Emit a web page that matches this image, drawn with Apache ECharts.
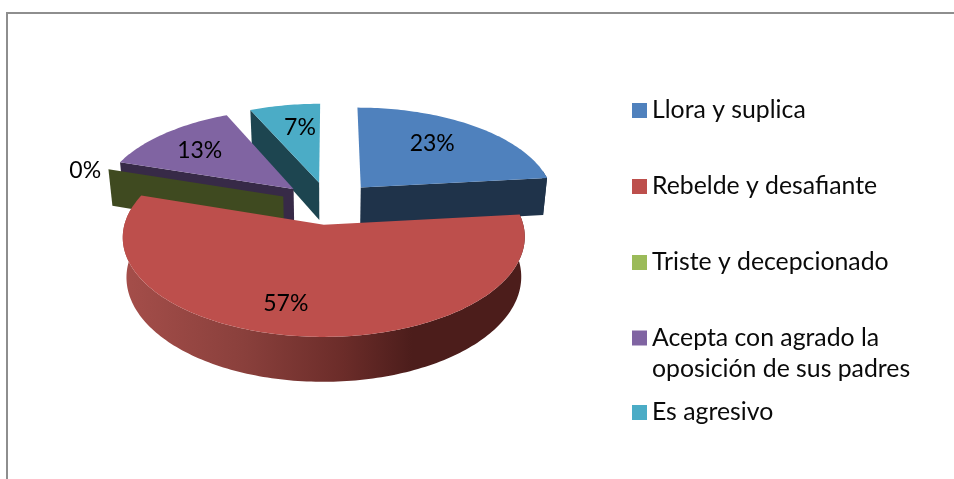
<!DOCTYPE html>
<html>
<head>
<meta charset="utf-8">
<style>html,body{margin:0;padding:0;background:#fff}#chart{width:954px;height:479px}</style>
<script src="https://cdn.jsdelivr.net/npm/echarts@6/dist/echarts.min.js"></script>
</head>
<body>
<div id="chart"></div>
<script>
// datos (porcentajes estimados, la etiqueta los redondea)
const categorias = ["Llora y suplica", "Rebelde y desafiante", "Triste y decepcionado", "Acepta con agrado la oposición de sus padres", "Es agresivo"];
const valores = [23.3, 56.7, 0, 13.3, 6.7];
const coloresCara = ["#4f81bd", "#bd4f4c", "#9bbb59", "#8064a2", "#4bacc6"];
const coloresLado = ["#1f334a", "#4c1d1b", "#3f4a20", "#372a47", "#1d4550"];
const ordenDibujo = [4, 3, 2, 0, 1]; // del fondo hacia el frente
const ajusteEtiqueta = [[-5, -3], [-23, 10], [-83, -8], [-8, -1], [4, -3]];

// camara de la torta 3D
const cx = 329, cy = 203, radioX = 194, radioY = 92.9, alto = 38.3;
const persp = 0.12, separacionX = 0.25, separacionY = 0.23, encoge = 0.018, radioEtiqueta = 0.65;
const FUENTE = "Lato";

const total = valores.reduce((a, b) => a + b, 0);

function proyectar(X, Y, h) {
    let s = 1 / (1 - persp * Y);
    return [cx + radioX * X * s * (1 - encoge * h), cy + radioY * Y * s + alto * h * s];
}

// angulos en radianes, desde arriba y en sentido horario
function puntoTorta(ang, r, medio, h) {
    let X = Math.sin(ang) * r + Math.sin(medio) * separacionX;
    let Y = -Math.cos(ang) * r - Math.cos(medio) * separacionY;
    return proyectar(X, Y, h);
}

function areaFirmada(p) {
    let a = 0;
    for (let i = 0; i < p.length; i++) {
        let q = p[(i + 1) % p.length];
        a += p[i][0] * q[1] - q[0] * p[i][1];
    }
    return a;
}

function crearRender(idx) {
    let previo = valores.slice(0, idx).reduce((a, b) => a + b, 0);
    return function (params, api) {
        let ini = previo / total * Math.PI * 2;
        let fin = ini + api.value(0) / total * Math.PI * 2;
        let medio = (ini + fin) / 2;
        let pasos = Math.max(1, Math.ceil((fin - ini) / 0.02));
        let hijos = [];
        let lado = coloresLado[idx];

        let arriba = [], bordeA = [], bordeB = [];
        for (let i = 0; i <= pasos; i++) {
            let a = ini + (fin - ini) * i / pasos;
            arriba.push(puntoTorta(a, 1, medio, 0));
            // el borde de atras no se ve
            if (Math.cos(a) < 0.2) {
                bordeA.push(puntoTorta(a, 1, medio, 0));
                bordeB.push(puntoTorta(a, 1, medio, 1));
            }
        }
        let centro = puntoTorta(0, 0, medio, 0), centroB = puntoTorta(0, 0, medio, 1);
        let finA = arriba[pasos], iniB = puntoTorta(ini, 1, medio, 1), finB = puntoTorta(fin, 1, medio, 1);

        // borde exterior
        if (api.value(0) > 0 && bordeA.length > 1) {
            let relleno = lado;
            if (idx === 1) {
                relleno = new echarts.graphic.LinearGradient(0, 0, 1, 0, [
                    { offset: 0, color: "#a54e4a" },
                    { offset: 0.3, color: "#8a403c" },
                    { offset: 0.55, color: "#6b2c29" },
                    { offset: 0.72, color: "#4c1d1b" },
                    { offset: 1, color: "#4c1d1b" }
                ]);
            }
            hijos.push({
                type: "polygon",
                shape: { points: bordeA.concat(bordeB.slice().reverse()) },
                style: { fill: relleno }
            });
        }

        // caras radiales, solo las que miran a la camara (en pantalla y crece hacia abajo)
        let caraIni = [centro, arriba[0], iniB, centroB];
        let caraFin = [finA, centro, centroB, finB];
        if (areaFirmada(caraIni) < -2000) {
            hijos.push({ type: "polygon", shape: { points: caraIni }, style: { fill: lado } });
        }
        if (areaFirmada(caraFin) < -2000 && api.value(0) !== 0) {
            hijos.push({ type: "polygon", shape: { points: caraFin }, style: { fill: lado } });
        }

        if (api.value(0) > 0) {
            hijos.push({
                type: "polygon",
                shape: { points: [centro].concat(arriba) },
                style: { fill: api.visual("color") }
            });
        }

        let pos = puntoTorta(medio, radioEtiqueta, medio, 0);
        hijos.push({
            type: "text",
            z2: 50,
            style: {
                x: pos[0] + ajusteEtiqueta[idx][0],
                y: pos[1] + ajusteEtiqueta[idx][1],
                text: Math.round(api.value(0)) + "%",
                fill: "#000",
                font: "23px " + FUENTE,
                align: "center",
                verticalAlign: "middle"
            }
        });
        return { type: "group", children: hijos };
    };
}

const series = categorias.map((nombre, i) => ({
    type: "custom",
    name: nombre,
    coordinateSystem: "none",
    z: 2 + ordenDibujo.indexOf(i),
    itemStyle: { color: coloresCara[i] },
    data: [[valores[i]]],
    renderItem: crearRender(i),
    silent: true
}));

const baseLeyenda = {
    orient: "vertical",
    left: 632,
    padding: 0,
    icon: "rect",
    itemWidth: 15,
    itemHeight: 15,
    selectedMode: false,
    textStyle: { fontFamily: FUENTE, fontSize: 24.8, color: "#0a0a0a", lineHeight: 31 }
};

var myChart = echarts.init(document.getElementById("chart"), null, { renderer: "canvas", width: 954, height: 479 });
myChart.setOption({
    animation: false,
    backgroundColor: "#fff",
    legend: [
        Object.assign({}, baseLeyenda, { top: 95, itemGap: 45, data: categorias.slice(0, 3) }),
        Object.assign({}, baseLeyenda, {
            top: 291.5,
            data: [categorias[3]],
            formatter: () => "\nAcepta con agrado la\noposición de sus padres"
        }),
        Object.assign({}, baseLeyenda, { top: 397, data: [categorias[4]] })
    ],
    graphic: [
        { type: "line", shape: { x1: 7, y1: 13, x2: 954, y2: 13 }, style: { stroke: "#8e8e8e", lineWidth: 2 } },
        { type: "line", shape: { x1: 7, y1: 12, x2: 7, y2: 479 }, style: { stroke: "#8e8e8e", lineWidth: 2 } }
    ],
    series: series
});
</script>
</body>
</html>
